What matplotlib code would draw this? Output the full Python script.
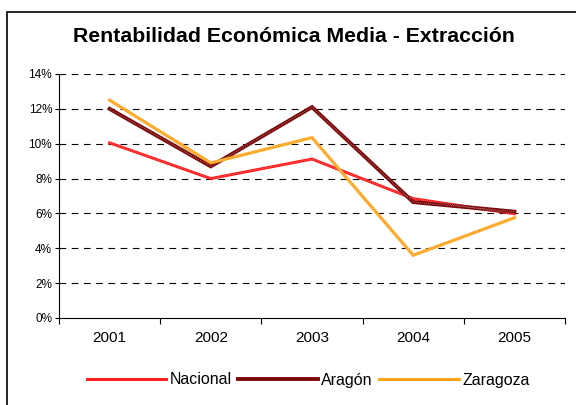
import matplotlib
matplotlib.use("Agg")
import matplotlib.pyplot as plt
from matplotlib.patches import Rectangle

years = ["2001", "2002", "2003", "2004", "2005"]
nacional = [10.05, 8.0, 9.12, 6.85, 5.98]
aragon = [12.0, 8.7, 12.1, 6.65, 6.1]
zaragoza = [12.5, 8.9, 10.35, 3.6, 5.75]
yticks = [0, 2, 4, 6, 8, 10, 12, 14]

plt.rcParams['font.family'] = ['Liberation Sans', 'DejaVu Sans']

fig = plt.figure(figsize=(5.76, 4.05), dpi=100)
fig.patch.set_facecolor('white')
fig.add_artist(Rectangle((7/576, -0.05), 2.0, (405-12)/405 + 0.05, transform=fig.transFigure,
                         fill=False, edgecolor='black', linewidth=1.2))

ax = fig.add_axes([59/576, (405-318)/405, (565-59)/576, (318-74)/405])
x = list(range(len(years)))

series = [(nacional, '#FF1A1A', 2.1, 'Nacional'),
          (aragon, '#7A0A0A', 2.8, 'Aragón'),
          (zaragoza, '#FFA31A', 2.2, 'Zaragoza')]
handles = []
for vals, col, lw, lab in series:
    ln, = ax.plot(x, vals, color=col, linewidth=lw, solid_joinstyle='miter', label=lab, zorder=3)
    ax.plot(x, vals, color='white', linewidth=0.6, linestyle=(0, (1, 1.5)), alpha=0.5, zorder=4)
    handles.append(ln)

ax.set_xlim(-0.5, len(years) - 0.5)
ax.set_ylim(0, 14)
ax.set_yticks(yticks)
ax.set_yticklabels([f"{v}%" for v in yticks], fontsize=8.5)
for v in yticks[1:]:
    ax.axhline(v, color='black', linewidth=0.8, linestyle=(0, (6, 5)), zorder=1)

ax.set_xticks(x)
ax.set_xticklabels(years, fontsize=11)
ax.set_xticks([i - 0.5 for i in range(len(years) + 1)], minor=True)
ax.tick_params(axis='x', which='major', length=0, pad=9)
ax.tick_params(axis='x', which='minor', length=4, width=0.8, direction='out')
ax.tick_params(axis='y', length=3, width=0.8, direction='out', pad=2)

for s in ['top', 'right']:
    ax.spines[s].set_visible(False)
ax.spines['left'].set_linewidth(0.8)
ax.spines['bottom'].set_linewidth(0.8)

fig.text(294/576, 1 - 37/405, "Rentabilidad Económica Media - Extracción", ha='center', va='center',
         fontsize=15.3, fontweight='bold')

fig.legend(handles=handles, loc='center', bbox_to_anchor=(308/576, 1 - 380/405), ncol=3,
           frameon=False, fontsize=11.5, handlelength=5.0, handletextpad=0.2, columnspacing=0.4)

fig.savefig("out.png", dpi=100)
